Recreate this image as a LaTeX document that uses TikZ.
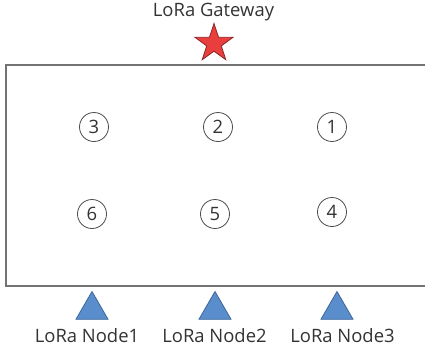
\documentclass[tikz,border=0pt]{standalone}
\usepackage{fontspec}
\setmainfont{Open Sans}
\usepackage{tikz}
\usetikzlibrary{shapes.geometric}
\definecolor{starred}{HTML}{E83E3E}
\definecolor{stardark}{HTML}{8E2424}
\definecolor{triblue}{HTML}{5A8DCC}
\definecolor{tridark}{HTML}{3C679A}

\begin{document}
\begin{tikzpicture}[x=1bp,y=-1bp,
  lbl/.style={font=\fontsize{18.5}{20}\selectfont,text=black!80,inner sep=0pt},
  spot/.style={circle,draw=black!70,line width=0.8bp,minimum size=29bp,inner sep=0pt,
    font=\fontsize{18.5}{20}\selectfont,text=black!80},
  gateway/.style={star,star points=5,star point ratio=2.6,minimum size=40bp,inner sep=0pt,
    fill=starred,draw=stardark,line width=0.8bp},
  enddev/.style={regular polygon,regular polygon sides=3,minimum size=37bp,inner sep=0pt,
    fill=triblue,draw=tridark,line width=0.8bp}]
\useasboundingbox (0,0) rectangle (425,349);
\draw[color=black!55,line width=1.5bp] (6,65) rectangle (432,286);

\node[lbl] (gwtext) at (213.5,12) {LoRa Gateway};
\node[gateway] (gw) at (214,43.5) {};

\node[spot] (p3) at (94,127) {3};
\node[spot] (p2) at (218,127) {2};
\node[spot] (p1) at (332,127) {1};
\node[spot] (p6) at (92,214) {6};
\node[spot] (p5) at (215,214) {5};
\node[spot] (p4) at (332,212) {4};

\node[enddev] (n1) at (92,310) {};
\node[enddev] (n2) at (215,310) {};
\node[enddev] (n3) at (337,310) {};

\node[lbl] (t1) at (87,336) {LoRa Node1};
\node[lbl] (t2) at (214.5,336) {LoRa Node2};
\node[lbl] (t3) at (342.5,336) {LoRa Node3};
\end{tikzpicture}
\end{document}
